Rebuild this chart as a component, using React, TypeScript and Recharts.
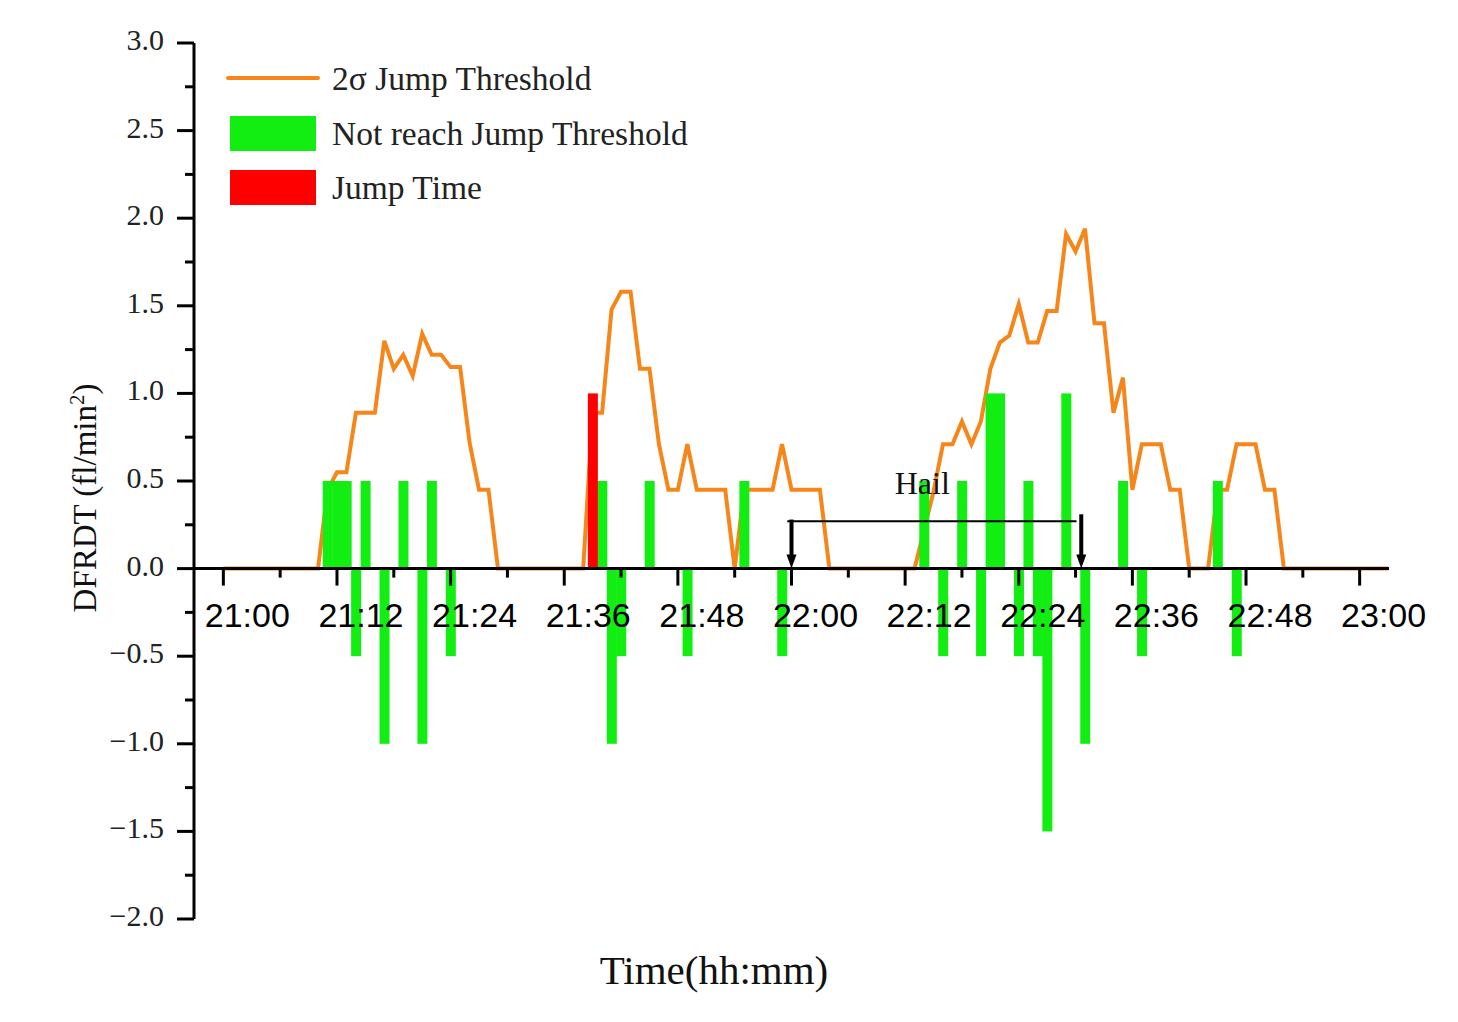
import React from "react";
import {
  ComposedChart,
  Line,
  Bar,
  XAxis,
  YAxis,
  ReferenceLine,
  ReferenceDot,
  Legend,
  Label,
} from "recharts";

// time axis is in minutes after 21:00
const X_TICKS = [0, 6, 12, 18, 24, 30, 36, 42, 48, 54, 60, 66, 72, 78, 84, 90, 96, 102, 108, 114, 120];
const Y_TICKS = [
  -2, -1.75, -1.5, -1.25, -1, -0.75, -0.5, -0.25, 0, 0.25, 0.5, 0.75, 1, 1.25, 1.5, 1.75, 2, 2.25, 2.5, 2.75, 3,
];

// 2σ jump threshold (vertices of the line)
const LINE_MINUTES = [
  0, 10, 11, 12, 13, 14, 16, 17, 18, 19, 20, 21, 22, 23, 24, 25, 26, 27, 28, 29,
  38, 39, 40, 41, 42, 43, 44, 45, 46, 47, 48, 49, 50, 53, 54, 55, 58, 59, 60, 63, 64,
  73, 74, 75, 76, 77, 78, 79, 80, 81, 82, 83, 84, 85, 86, 87, 88, 89, 90, 91, 92, 93, 94, 95, 96, 97, 99, 100, 101, 102,
  104, 105, 106, 107, 109, 110, 111, 112, 123,
];
const THRESHOLD = [
  0, 0, 0.45, 0.55, 0.55, 0.89, 0.89, 1.3, 1.14, 1.22, 1.1, 1.34, 1.22, 1.22, 1.15, 1.15, 0.72, 0.45, 0.45, 0,
  0, 0.89, 0.89, 1.48, 1.58, 1.58, 1.14, 1.14, 0.71, 0.45, 0.45, 0.71, 0.45, 0.45, 0, 0.45, 0.45, 0.71, 0.45, 0.45, 0,
  0, 0.22, 0.44, 0.71, 0.71, 0.84, 0.71, 0.84, 1.14, 1.29, 1.33, 1.51, 1.29, 1.29, 1.47, 1.47, 1.91, 1.81, 1.94, 1.4, 1.4, 0.89, 1.09, 0.45, 0.71, 0.71, 0.45, 0.45, 0,
  0, 0.45, 0.45, 0.71, 0.71, 0.45, 0.45, 0, 0,
];

// DFRDT values that did not reach the threshold
const BAR_MINUTES = [
  11, 12, 13, 14, 15, 17, 19, 21, 22, 24,
  40, 41, 42, 45, 49, 55, 59,
  74, 76, 78, 80, 81, 82, 84, 85, 86, 87, 89, 91, 95, 97, 105, 107,
];
const BAR_VALUES = [
  0.5, 0.5, 0.5, -0.5, 0.5, -1, 0.5, -1, 0.5, -0.5,
  0.5, -1, -0.5, 0.5, -0.5, 0.5, -0.5,
  0.5, -0.5, 0.5, -0.5, 1, 1, -0.5, 0.5, -0.5, -1.5, 1, -1, 0.5, -0.5, 0.5, -0.5,
];

// jump time
const JUMP_MINUTES = [39];
const JUMP_VALUES = [1];

// hail period annotation
const HAIL_START = 60;
const HAIL_END = 90.6;
const HAIL_LEVEL = 0.27;

const ORANGE = "#F7861A";
const GREEN = "#12EE12";
const RED = "#FF0000";
const SERIF = "'Liberation Serif', 'Times New Roman', serif";
const SANS = "'Liberation Sans', Arial, sans-serif";

const W = 1442;
const H = 1006;
const MARGIN = { top: 35, right: 61, bottom: 45, left: 96 };
const X_AXIS_H = 50;
const Y_AXIS_W = 90;
const Y_MIN = -2;
const Y_MAX = 3;
const PLOT_H = H - MARGIN.top - MARGIN.bottom - X_AXIS_H;
const ZERO_FROM_BOTTOM = (PLOT_H * (0 - Y_MIN)) / (Y_MAX - Y_MIN);
const BAR_W = 10;

const SERIES = {
  threshold: "2σ Jump Threshold",
  change: "Not reach Jump Threshold",
  jump: "Jump Time",
};

const rows = Array.from({ length: 124 }, (_, m) => {
  const li = LINE_MINUTES.indexOf(m);
  const bi = BAR_MINUTES.indexOf(m);
  const ji = JUMP_MINUTES.indexOf(m);
  return {
    minute: m,
    threshold: li >= 0 ? THRESHOLD[li] : null,
    change: bi >= 0 ? BAR_VALUES[bi] : null,
    jump: ji >= 0 ? JUMP_VALUES[ji] : null,
  };
});

const fmtTime = (m: number) => {
  const h = 21 + Math.floor(m / 60);
  const mm = m % 60;
  return `${h}:${mm < 10 ? "0" : ""}${mm}`;
};

const XTick = (props: any) => {
  const { x, y, payload } = props;
  const zy = y - ZERO_FROM_BOTTOM;
  const major = payload.value % 12 === 0;
  return (
    <g>
      <line x1={x} x2={x} y1={zy} y2={zy + (major ? 17 : 9)} stroke="#000" strokeWidth={3} />
      {major && (
        <text x={x + 24} y={zy + 58} textAnchor="middle" fontFamily={SANS} fontSize={34} fill="#000">
          {fmtTime(payload.value)}
        </text>
      )}
    </g>
  );
};

const YTick = (props: any) => {
  const { x, y, payload } = props;
  const v = payload.value as number;
  const major = Math.abs(v * 2 - Math.round(v * 2)) < 1e-6;
  return (
    <g>
      <line x1={x - (major ? 17 : 9)} x2={x} y1={y} y2={y} stroke="#000" strokeWidth={3} />
      {major && (
        <text x={x - 30} y={y + 7} textAnchor="end" fontFamily={SERIF} fontSize={30} fill="#222">
          {v.toFixed(1).replace("-", "\u2212")}
        </text>
      )}
    </g>
  );
};

const BarShape = (p: any) => {
  if (!p.height || p.value == null) return <g />;
  const y = Math.min(p.y, p.y + p.height);
  const h = Math.abs(p.height);
  const cx = p.x + p.width / 2;
  return <rect x={cx - BAR_W / 2} y={y} width={BAR_W} height={h} fill={p.fill} />;
};

const ArrowHead = (p: any) => (
  <polygon points={`${p.cx - 5},${p.cy - 14} ${p.cx + 5},${p.cy - 14} ${p.cx},${p.cy}`} fill="#000" />
);

const HailText = (p: any) => (
  <text x={p.cx} y={p.cy} fontFamily={SERIF} fontSize={32} fill="#111">
    Hail
  </text>
);

const renderLegend = () => (
  <svg width={540} height={170}>
    <line x1={8} x2={98} y1={23} y2={23} stroke={ORANGE} strokeWidth={4} strokeLinecap="round" />
    <text x={112} y={35} fontFamily={SERIF} fontSize={33.5} fill="#222">
      {SERIES.threshold}
    </text>
    <rect x={10} y={61} width={86} height={35} fill={GREEN} />
    <text x={112} y={90} fontFamily={SERIF} fontSize={33.5} fill="#222">
      {SERIES.change}
    </text>
    <rect x={10} y={115} width={86} height={35} fill={RED} />
    <text x={112} y={144} fontFamily={SERIF} fontSize={33.5} fill="#222">
      {SERIES.jump}
    </text>
  </svg>
);

export default function App() {
  return (
    <div style={{ width: W, height: H, background: "#fff" }}>
      <ComposedChart width={W} height={H} data={rows} margin={MARGIN}>
        <XAxis
          dataKey="minute"
          type="number"
          domain={[-3.1, 123.1]}
          ticks={X_TICKS}
          interval={0}
          height={X_AXIS_H}
          axisLine={false}
          tickLine={false}
          tickSize={0}
          tickMargin={0}
          tick={XTick}
        >
          <Label
            content={() => (
              <text x={706} y={976} textAnchor="middle" fontFamily={SERIF} fontSize={41} fill="#111">
                Time(hh:mm)
              </text>
            )}
          />
        </XAxis>
        <YAxis
          type="number"
          domain={[Y_MIN, Y_MAX]}
          ticks={Y_TICKS}
          interval={0}
          width={Y_AXIS_W}
          axisLine={{ stroke: "#000", strokeWidth: 3 }}
          tickLine={false}
          tickSize={0}
          tickMargin={0}
          tick={YTick}
        >
          <Label
            content={() => (
              <text
                x={88}
                y={490}
                textAnchor="middle"
                transform="rotate(-90, 88, 490)"
                fontFamily={SERIF}
                fontSize={33}
                fill="#111"
              >
                DFRDT (fl/min
                <tspan dy={-12} fontSize={21}>
                  2
                </tspan>
                <tspan dy={12}>)</tspan>
              </text>
            )}
          />
        </YAxis>
        <Legend
          layout="vertical"
          align="center"
          verticalAlign="middle"
          wrapperStyle={{ left: 212, top: 47, width: 540, height: 170 }}
          content={renderLegend}
        />
        <Line
          type="linear"
          dataKey="threshold"
          name={SERIES.threshold}
          stroke={ORANGE}
          strokeWidth={4}
          dot={false}
          activeDot={false}
          connectNulls
          zIndex={250}
          isAnimationActive={false}
        />
        <Bar
          dataKey="change"
          name={SERIES.change}
          stackId="d"
          fill={GREEN}
          shape={BarShape}
          zIndex={320}
          isAnimationActive={false}
        />
        <Bar
          dataKey="jump"
          name={SERIES.jump}
          stackId="d"
          fill={RED}
          shape={BarShape}
          zIndex={320}
          isAnimationActive={false}
        />
        <ReferenceLine y={0} stroke="#000" strokeWidth={3} zIndex={450} />
        <ReferenceLine
          segment={[
            { x: HAIL_START - 0.45, y: HAIL_LEVEL },
            { x: HAIL_END - 0.5, y: HAIL_LEVEL },
          ]}
          stroke="#000"
          strokeWidth={2}
          zIndex={450}
        />
        <ReferenceLine
          segment={[
            { x: HAIL_START, y: HAIL_LEVEL + 0.01 },
            { x: HAIL_START, y: 0.05 },
          ]}
          stroke="#000"
          strokeWidth={4}
          zIndex={450}
        />
        <ReferenceLine
          segment={[
            { x: HAIL_END, y: HAIL_LEVEL + 0.04 },
            { x: HAIL_END, y: 0.05 },
          ]}
          stroke="#000"
          strokeWidth={4}
          zIndex={450}
        />
        <ReferenceDot x={HAIL_START} y={0} r={0} shape={ArrowHead} zIndex={450} />
        <ReferenceDot x={HAIL_END} y={0} r={0} shape={ArrowHead} zIndex={450} />
        <ReferenceDot x={70.9} y={0.424} r={0} shape={HailText} zIndex={450} />
      </ComposedChart>
    </div>
  );
}
